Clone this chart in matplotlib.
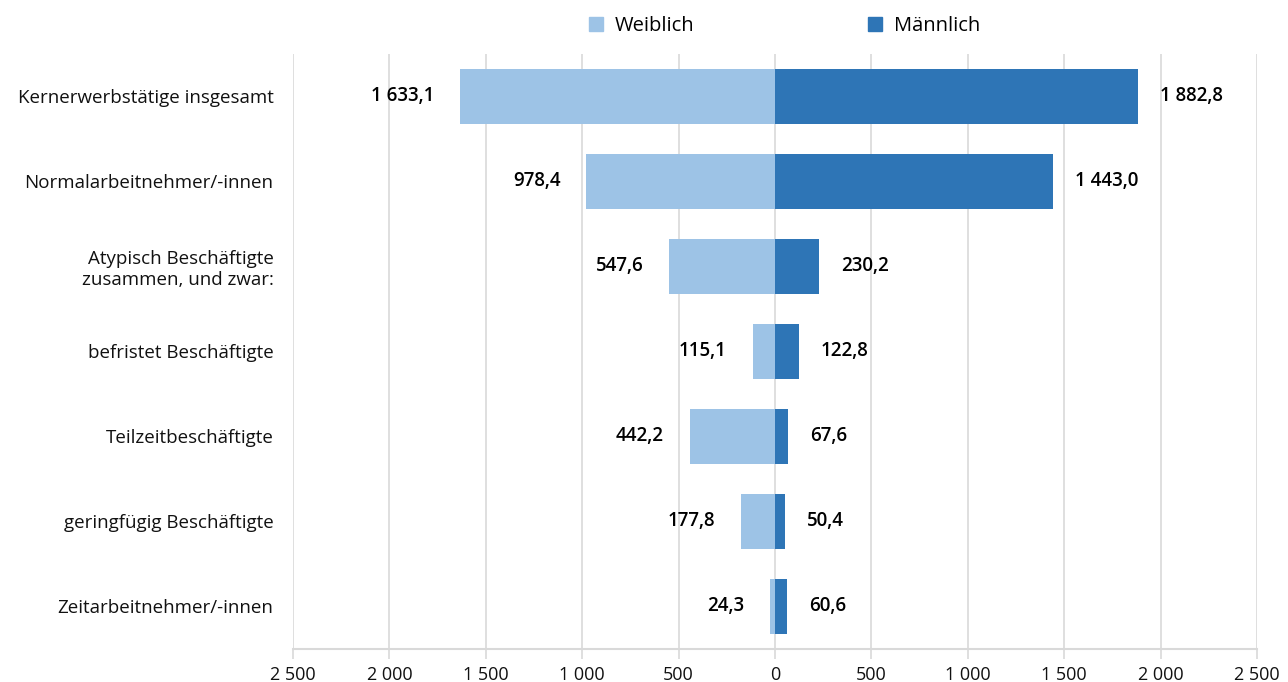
import matplotlib.pyplot as plt
from matplotlib.ticker import FuncFormatter, MultipleLocator
from matplotlib.patches import Patch

plt.rcParams['font.family'] = ['Open Sans', 'DejaVu Sans']

categories = [
    'Kernerwerbstätige insgesamt',
    'Normalarbeitnehmer/-innen',
    'Atypisch Beschäftigte\nzusammen, und zwar:',
    'befristet Beschäftigte',
    'Teilzeitbeschäftigte',
    'geringfügig Beschäftigte',
    'Zeitarbeitnehmer/-innen',
]
weiblich = [1633.1, 978.4, 547.6, 115.1, 442.2, 177.8, 24.3]
maennlich = [1882.8, 1443.0, 230.2, 122.8, 67.6, 50.4, 60.6]

c_w = '#9dc3e6'
c_m = '#2e75b6'


def de_fmt(v, decimals=1):
    s = f'{abs(v):,.{decimals}f}'
    return s.replace(',', ' ').replace('.', ',')


fig = plt.figure(figsize=(12.88, 6.82), dpi=100)
ax = fig.add_axes([0.2275, 0.0485, 0.7485, 0.8725])

y = list(range(len(categories)))
ax.barh(y, [-v for v in weiblich], height=0.64, color=c_w, zorder=2)
ax.barh(y, maennlich, height=0.64, color=c_m, zorder=2)

for yi, w, m in zip(y, weiblich, maennlich):
    ax.text(-w - 135, yi, de_fmt(w), ha='right', va='center',
            fontsize=13.5, fontweight='semibold', color='#000000')
    ax.text(m + 115, yi, de_fmt(m), ha='left', va='center',
            fontsize=13.5, fontweight='semibold', color='#000000')

ax.set_xlim(-2500, 2500)
ax.set_ylim(len(categories) - 0.5, -0.5)
ax.xaxis.set_major_locator(MultipleLocator(500))
ax.xaxis.set_major_formatter(FuncFormatter(lambda v, p: de_fmt(v, 0)))
ax.set_yticks(y)
ax.set_yticklabels(categories, fontsize=13.5, color='#111111',
                   multialignment='right')
ax.tick_params(axis='y', length=0, pad=14)
ax.tick_params(axis='x', length=7, color='#d9d9d9', width=1.2,
               labelsize=13, labelcolor='#111111', pad=5)
ax.grid(axis='x', color='#d9d9d9', linewidth=1.2, zorder=0)
for s in ['top', 'right', 'left']:
    ax.spines[s].set_visible(False)
ax.spines['bottom'].set_color('#d9d9d9')
ax.spines['bottom'].set_linewidth(1.5)

handles = [Patch(color=c_w, label='Weiblich'), Patch(color=c_m, label='Männlich')]
fig.legend(handles=handles, loc='center', bbox_to_anchor=(0.609, 0.962),
           ncol=2, frameon=False, fontsize=14.5, handlelength=0.7,
           handleheight=0.7, columnspacing=8.6, handletextpad=0.6)

fig.savefig('out.png', dpi=100)
